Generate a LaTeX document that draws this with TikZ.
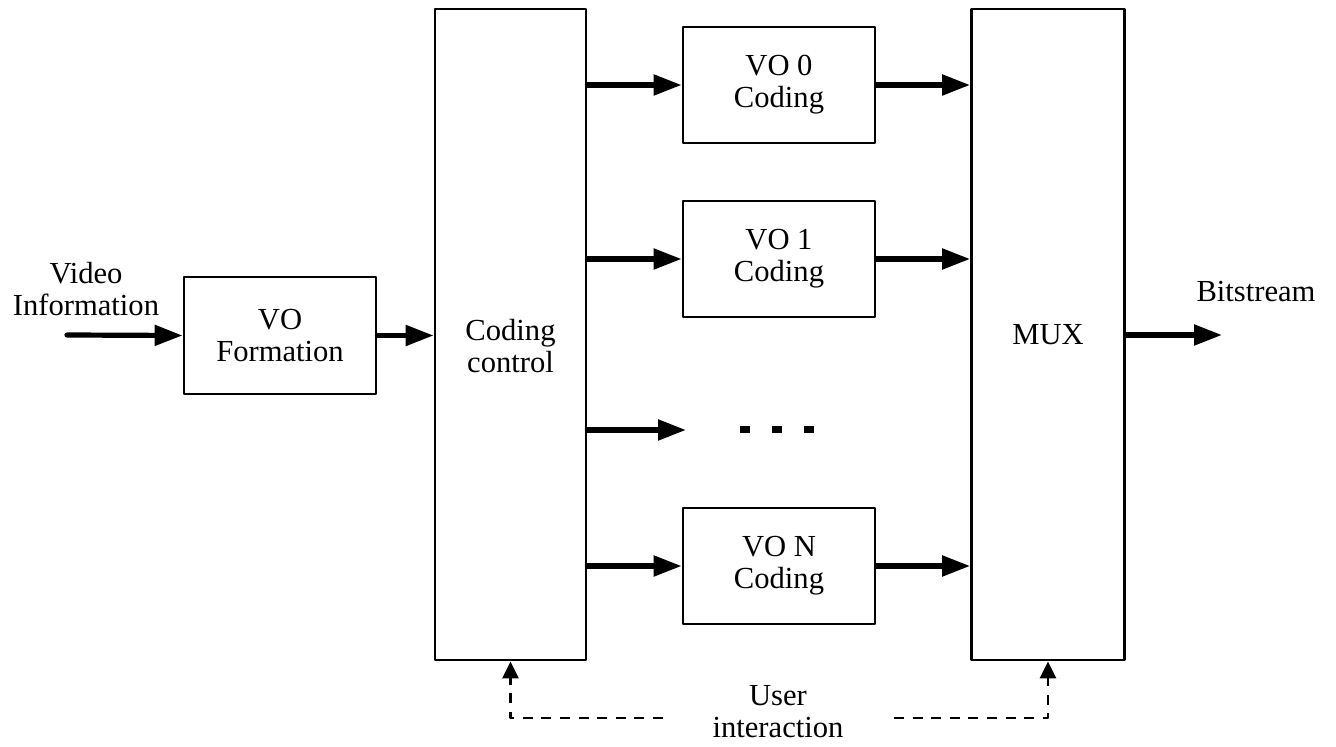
\documentclass[tikz,border=0pt]{standalone}
\usepackage{fontspec}
\setmainfont{Liberation Serif}
\usetikzlibrary{arrows.meta}
\begin{document}
\begin{tikzpicture}[x=0.5pt, y=-0.5pt, font=\fontsize{15.3}{16}\selectfont, line join=round,
    box/.style={draw, line width=1.4pt, align=center, inner sep=0pt},
    flow/.style={line width=2.6pt, line cap=round, -{Triangle[length=14pt,width=10pt]}},
    user/.style={line width=1.4pt, dash pattern=on 5pt off 4.3pt, -{Triangle[length=8.5pt,width=8pt]}}]
				\useasboundingbox (0,0) rectangle (1336,747);
				\path (67,335) coordinate (in) (1222,335) coordinate (out) (686,430) coordinate (D)
				(663,718) coordinate (UL) (894,718) coordinate (UR);
				\node[box, minimum width=96pt, minimum height=58.5pt] (form) at (280,335.5) {VO\\Formation};
				\node[box, minimum width=75.5pt, minimum height=325.5pt] (cc) at (510.5,334.5) {};
				\node[box, minimum width=76.5pt, minimum height=325.5pt] (mux) at (1048,334.5) {MUX};
				\node[align=center] (cctext) at (510.5,346) {Coding\\control};
				\foreach \n/\y/\t in {vo0/85/VO 0, vo1/259/VO 1, von/566/VO N}{
					\node[box, minimum width=96pt, minimum height=58pt] (\n) at (779,\y) {\t\\Coding};
					\draw[flow] (\n.west -| cc.east) -- (\n.west);
					\draw[flow] (\n.east) -- (\n.east -| mux.west);}
				\draw[flow] (D -| cc.east) -- (D);
				\draw[line width=3.5pt, dash pattern=on 5pt off 11pt] (740,430) -- (815,430);
				\draw[flow] (in) -- (form.west);
				\draw[flow] (form.east) -- (form.east -| cc.west);
				\draw[flow] (mux.east |- out) -- (out);
				\node[align=center] (vid) at (86,289) {Video\\Information};
				\node (bits) at (1256,292) {Bitstream};
				\node[align=center] (ui) at (778,712) {User\\interaction};
				\draw[user] (UL) -| (cc.south);
				\draw[user] (UR) -| (mux.south);
			\end{tikzpicture}
\end{document}
